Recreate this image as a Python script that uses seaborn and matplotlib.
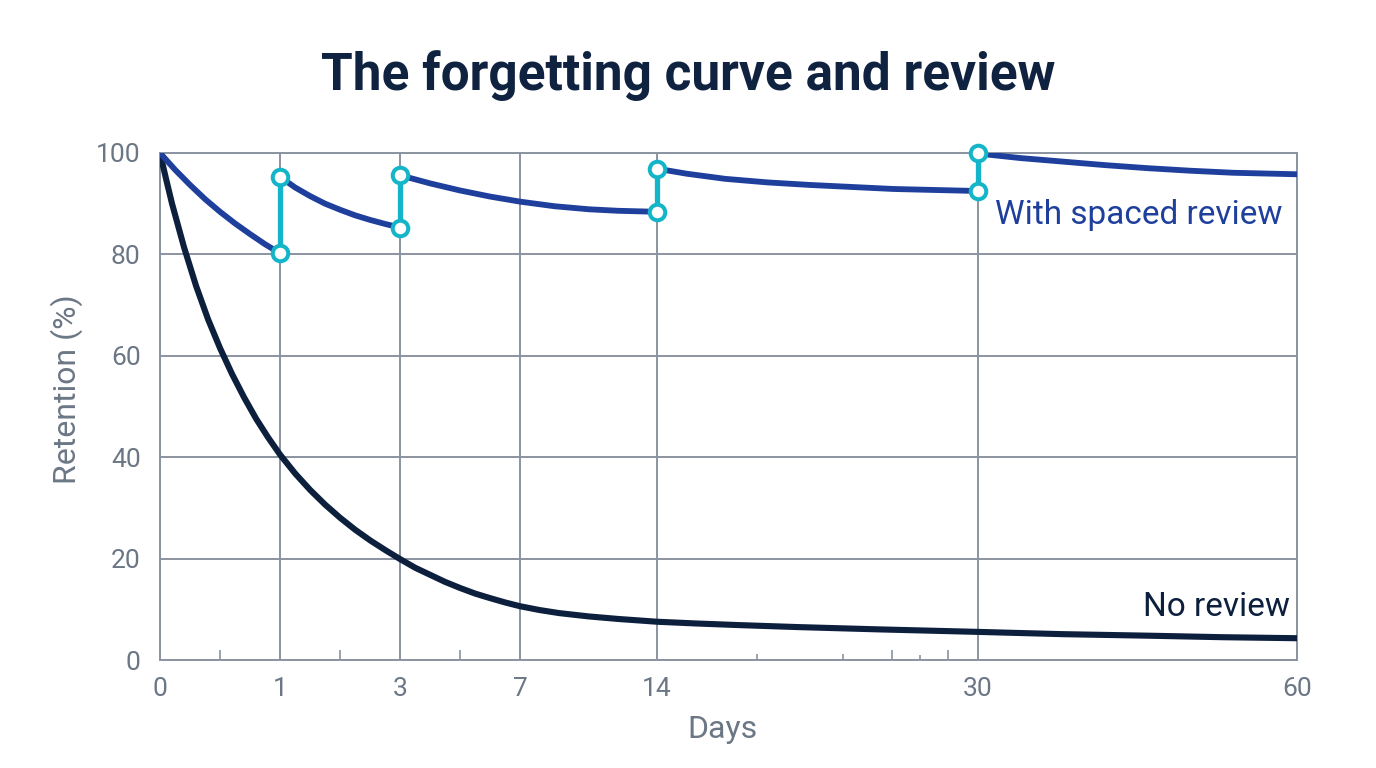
import numpy as np
import pandas as pd
import matplotlib
matplotlib.use("Agg")
import matplotlib.pyplot as plt
import seaborn as sns

# --- data ------------------------------------------------------------------
tick_days = [0, 1, 3, 7, 14, 30, 60]
minor_days = [0.5, 2, 5, 19, 23.3, 25.7, 27.1, 28.5]
minor_len = [7, 7, 7, 4.5, 4.5, 7, 3.5, 7]

no_review_days = [0, 0.05, 0.1, 0.2, 0.3, 0.4, 0.5, 0.6, 0.7, 0.8, 0.9, 1.0,
                  1.25, 1.5, 1.75, 2, 2.25, 2.5, 2.75, 3, 3.5, 4, 4.5, 5,
                  5.5, 6, 6.5, 7, 8, 9, 10.5, 12, 14, 16, 18, 21, 25, 30,
                  38, 46, 53, 60]
no_review_ret = [100, 94.9, 90.0, 81.4, 73.8, 67.2, 61.5, 56.4, 51.8, 47.6,
                 43.9, 40.5, 36.8, 33.55, 30.65, 28.05, 25.7, 23.6, 21.7,
                 19.9, 18.2, 16.8, 15.4, 14.2, 13.1, 12.2, 11.35, 10.6, 9.85,
                 9.25, 8.6, 8.1, 7.55, 7.2, 6.9, 6.5, 6.05, 5.55, 5.1, 4.8,
                 4.5, 4.3]

review_days = [1, 3, 14, 30]
review_low = [80.2, 85.3, 88.4, 92.5]
review_high = [95.3, 95.6, 96.9, 99.9]

seg_days = [
    [0, 0.125, 0.25, 0.375, 0.5, 0.625, 0.75, 0.875, 1],
    [1, 1.25, 1.5, 1.75, 2, 2.25, 2.5, 2.75, 3],
    [3, 3.5, 4, 5, 6, 7, 8.75, 10.5, 12, 14],
    [14, 15.5, 17.4, 19.5, 21.6, 25.8, 30],
    [30, 34, 38, 42, 46, 50, 54, 60],
]
seg_ret = [
    [100, 96.7, 93.7, 90.9, 88.4, 86.1, 84.0, 82.0, 80.2],
    [95.3, 93.2, 91.5, 90.0, 88.8, 87.7, 86.8, 86.0, 85.3],
    [95.6, 94.8, 94.0, 92.6, 91.4, 90.4, 89.5, 88.9, 88.6, 88.4],
    [96.9, 95.9, 94.9, 94.2, 93.7, 92.9, 92.5],
    [99.9, 99.0, 98.3, 97.6, 97.0, 96.5, 96.1, 95.8],
]

# --- colours -----------------------------------------------------------------
NAVY = "#0c1f3d"
BLUE = "#1f3f9d"
CYAN = "#15b5c9"
GRID = "#8a94a0"
TEXT = "#6b7785"
TITLE = "#0f2341"

sns.set_theme(style="white")
plt.rcParams["font.family"] = ["Roboto", "DejaVu Sans"]

none_df = pd.DataFrame({"day": no_review_days, "ret": no_review_ret})
rows = []
for i, (d, r) in enumerate(zip(seg_days, seg_ret)):
    for dd, rr in zip(d, r):
        rows.append({"day": dd, "ret": rr, "seg": i})
spaced_df = pd.DataFrame(rows)
pts_df = pd.DataFrame({"day": review_days * 2, "ret": review_low + review_high})

fig = plt.figure(figsize=(13.76, 7.68), dpi=100)
ax = fig.add_axes([0.1163, 0.1406, 0.8263, 0.6602])

# uneven day axis, each labelled day placed where the reference puts it
pos = [0, 1.0, 2.0, 3.0, 4.14, 6.81, 9.47]
ax.set_xscale("function", functions=(lambda d: np.interp(d, tick_days, pos),
                                     lambda p: np.interp(p, pos, tick_days)))

sns.lineplot(data=none_df, x="day", y="ret", color=NAVY, lw=4.4, ax=ax,
             zorder=3, solid_joinstyle="round", solid_capstyle="round")
sns.lineplot(data=spaced_df, x="day", y="ret", units="seg", estimator=None,
             color=BLUE, lw=4.2, ax=ax, zorder=3, solid_joinstyle="round",
             solid_capstyle="round")
ax.vlines(review_days, review_low, review_high, color=CYAN, lw=3.8, zorder=4)
sns.scatterplot(data=pts_df, x="day", y="ret", s=125, color="white",
                edgecolor=CYAN, linewidth=2.9, ax=ax, zorder=5)
for c in ax.collections:
    c.set_clip_on(False)

ax.set_xlim(0, 60)
ax.set_ylim(0, 100)
ax.set_xticks(tick_days)
ax.set_xticklabels([str(d) for d in tick_days])
ax.set_xticks(minor_days, minor=True)
ax.set_yticks([0, 20, 40, 60, 80, 100])
ax.grid(True, which="major", color=GRID, lw=1.4)
ax.set_axisbelow(True)
ax.tick_params(axis="both", which="major", length=0, labelsize=19,
               labelcolor=TEXT)
ax.tick_params(axis="x", which="major", pad=12)
ax.tick_params(axis="y", which="major", pad=14)
ax.tick_params(axis="x", which="minor", direction="in", width=1.2,
               color=GRID, bottom=True)
for t, ln in zip(ax.xaxis.get_minor_ticks(), minor_len):
    t.tick1line.set_markersize(ln)
for s in ax.spines.values():
    s.set_color(GRID)
    s.set_linewidth(1.4)

ax.set_xlabel("Days", fontsize=23, color=TEXT)
ax.set_ylabel("Retention (%)", fontsize=23, color=TEXT)
ax.xaxis.set_label_coords(0.495, -0.108)
ax.yaxis.set_label_coords(-0.068, 0.534)

ax.text(58.6, 87.8, "With spaced review", color=BLUE, fontsize=24,
        ha="right", va="center")
ax.text(59.3, 10.5, "No review", color=NAVY, fontsize=24,
        ha="right", va="center")

fig.text(0.5, 0.902, "The forgetting curve and review", ha="center",
         va="center", fontsize=37, fontweight="bold", color=TITLE)

fig.savefig("out.png", dpi=100)
